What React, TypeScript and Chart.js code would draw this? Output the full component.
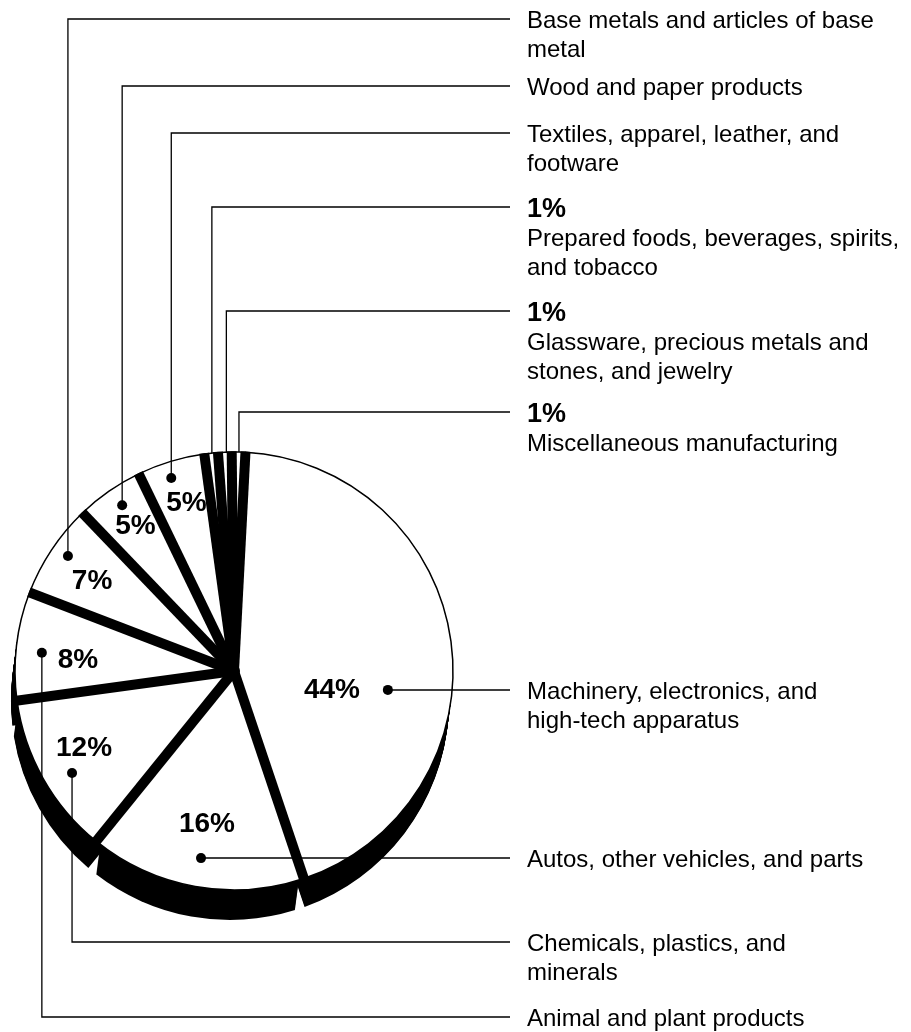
import React, { useEffect, useRef } from "react";
import { Chart, registerables } from "chart.js";

Chart.register(...registerables);

// ---- data ----
const categories = [
  "Machinery, electronics, and high-tech apparatus",
  "Autos, other vehicles, and parts",
  "Chemicals, plastics, and minerals",
  "Animal and plant products",
  "Base metals and articles of base metal",
  "Wood and paper products",
  "Textiles, apparel, leather, and footware",
  "Prepared foods, beverages, spirits, and tobacco",
  "Glassware, precious metals and stones, and jewelry",
  "Miscellaneous manufacturing",
];
const shares = [44, 16, 12, 8, 7, 5, 5, 1, 1, 1];
const labelLines = [
  ["Machinery, electronics, and", "high-tech apparatus"],
  ["Autos, other vehicles, and parts"],
  ["Chemicals, plastics, and", "minerals"],
  ["Animal and plant products"],
  ["Base metals and articles of base", "metal"],
  ["Wood and paper products"],
  ["Textiles, apparel, leather, and", "footware"],
  ["Prepared foods, beverages, spirits,", "and tobacco"],
  ["Glassware, precious metals and", "stones, and jewelry"],
  ["Miscellaneous manufacturing"],
];

// ---- annotation layout ----
const leaderY = [690, 858, 942, 1017, 19, 86, 133, 207, 311, 412];
// [angle clockwise from top in degrees, radius] relative to pie centre
const anchorPolar = [
  [97, 155], [190, 190], [237.8, 191.4], [275.4, 193], [304.7, 202],
  [326, 200], [342, 203], [354.2, 219], [358, 219], [1.3, 219],
];
const pctPolar: (number[] | null)[] = [
  [100, 99.5], [190.2, 153], [243.4, 167.7], [274.6, 156.5], [302.9, 169],
  [326.2, 177], [344.4, 176.5], null, null, null,
];

const W = 911;
const H = 1032;
const CX = 234;
const CY = 671;
const R = 219;
const DEPTH = 30;
const SKEW = 4;
const GAP = 10;
const FONT = '"Liberation Sans", Arial, Helvetica, sans-serif';
const TEXT_X = 527;
const LINE_END = 510;

function polar(cx: number, cy: number, deg: number, r: number) {
  const a = (deg * Math.PI) / 180;
  return { x: cx + r * Math.sin(a), y: cy - r * Math.cos(a) };
}

const depthPlugin = {
  id: "depth",
  beforeDatasetsDraw(chart: any) {
    const ctx = chart.ctx;
    const arcs = chart.getDatasetMeta(0).data;
    ctx.save();
    ctx.fillStyle = "#000";
    arcs.forEach((el: any) => {
      const { x, y, startAngle, endAngle, outerRadius } = el.getProps(
        ["x", "y", "startAngle", "endAngle", "outerRadius"],
        true
      );
      const half = (endAngle - startAngle) / 2;
      const d = GAP / 2;
      const s = Math.sin(half);
      const apexDist = s > 0 ? d / s : Infinity;
      const da = Math.asin(d / outerRadius);
      const a0 = startAngle + da;
      const a1 = endAngle - da;
      if (a1 <= a0 || apexDist >= outerRadius) return;
      const mid = (startAngle + endAngle) / 2;
      for (let t = 0; t <= DEPTH; t++) {
        const ox = (-SKEW * t) / DEPTH;
        const oy = t;
        ctx.beginPath();
        ctx.moveTo(x + ox + apexDist * Math.cos(mid), y + oy + apexDist * Math.sin(mid));
        ctx.arc(x + ox, y + oy, outerRadius, a0, a1);
        ctx.closePath();
        ctx.fill();
      }
    });
    ctx.restore();
  },
};

const separatorPlugin = {
  id: "separators",
  afterDatasetsDraw(chart: any) {
    const ctx = chart.ctx;
    const arcs = chart.getDatasetMeta(0).data;
    if (!arcs.length) return;
    const { x, y, outerRadius } = arcs[0].getProps(["x", "y", "outerRadius"], true);
    ctx.save();
    ctx.beginPath();
    ctx.arc(x, y, outerRadius + 0.75, 0, Math.PI * 2);
    ctx.clip();
    ctx.strokeStyle = "#000";
    ctx.lineWidth = GAP;
    ctx.lineCap = "butt";
    arcs.forEach((el: any) => {
      const a = el.startAngle;
      ctx.beginPath();
      ctx.moveTo(x, y);
      ctx.lineTo(x + (outerRadius + 3) * Math.cos(a), y + (outerRadius + 3) * Math.sin(a));
      ctx.stroke();
    });
    ctx.fillStyle = "#000";
    ctx.beginPath();
    ctx.arc(x, y, 6, 0, Math.PI * 2);
    ctx.fill();
    ctx.restore();
  },
};

const labelPlugin = {
  id: "labels",
  afterDraw(chart: any) {
    const ctx = chart.ctx;
    const arcs = chart.getDatasetMeta(0).data;
    if (!arcs.length) return;
    const { x: cx, y: cy } = arcs[0].getProps(["x", "y"], true);
    ctx.save();
    // leaders
    ctx.strokeStyle = "#000";
    ctx.lineWidth = 1.3;
    ctx.fillStyle = "#000";
    shares.forEach((v, i) => {
      const [ang, r] = anchorPolar[i];
      const p = polar(cx, cy, ang, r);
      const ly = leaderY[i];
      ctx.beginPath();
      ctx.moveTo(p.x, p.y);
      ctx.lineTo(p.x, ly);
      ctx.lineTo(LINE_END, ly);
      ctx.stroke();
      if (r < R) {
        ctx.beginPath();
        ctx.arc(p.x, p.y, 5, 0, Math.PI * 2);
        ctx.fill();
      }
    });
    // in-pie percentages
    ctx.textAlign = "center";
    ctx.textBaseline = "alphabetic";
    ctx.font = `bold 28px ${FONT}`;
    shares.forEach((v, i) => {
      const pp = pctPolar[i];
      if (!pp) return;
      const p = polar(cx, cy, pp[0], pp[1]);
      ctx.fillText(`${v}%`, p.x, p.y + 10);
    });
    // right-hand labels
    ctx.textAlign = "left";
    shares.forEach((v, i) => {
      const ly = leaderY[i];
      let base = ly + 8.6;
      if (!pctPolar[i]) {
        ctx.font = `bold 27px ${FONT}`;
        ctx.fillText(`${v}%`, TEXT_X, ly + 9.6);
        base = ly + 30 + 8.6;
      }
      ctx.font = `24px ${FONT}`;
      labelLines[i].forEach((line, k) => {
        ctx.fillText(line, TEXT_X, base + k * 29);
      });
    });
    ctx.restore();
  },
};

export default function App() {
  const ref = useRef<HTMLCanvasElement | null>(null);
  useEffect(() => {
    if (!ref.current) return;
    const chart = new Chart(ref.current, {
      type: "pie",
      data: {
        labels: categories,
        datasets: [
          {
            data: shares,
            backgroundColor: "#ffffff",
            borderColor: "#000000",
            borderWidth: 1.5,
            hoverOffset: 0,
          } as any,
        ],
      },
      options: {
        responsive: false,
        animation: false,
        devicePixelRatio: 1,
        rotation: 3,
        radius: R,
        events: [],
        layout: { padding: { left: 0, right: W - 2 * CX, top: 2 * CY - H, bottom: 0 } },
        plugins: { legend: { display: false }, tooltip: { enabled: false } },
      } as any,
      plugins: [depthPlugin, separatorPlugin, labelPlugin],
    });
    return () => chart.destroy();
  }, []);
  return (
    <div style={{ position: "absolute", left: 0, top: 0, width: W, height: H, background: "#fff" }}>
      <canvas ref={ref} width={W} height={H} style={{ display: "block" }} />
    </div>
  );
}
